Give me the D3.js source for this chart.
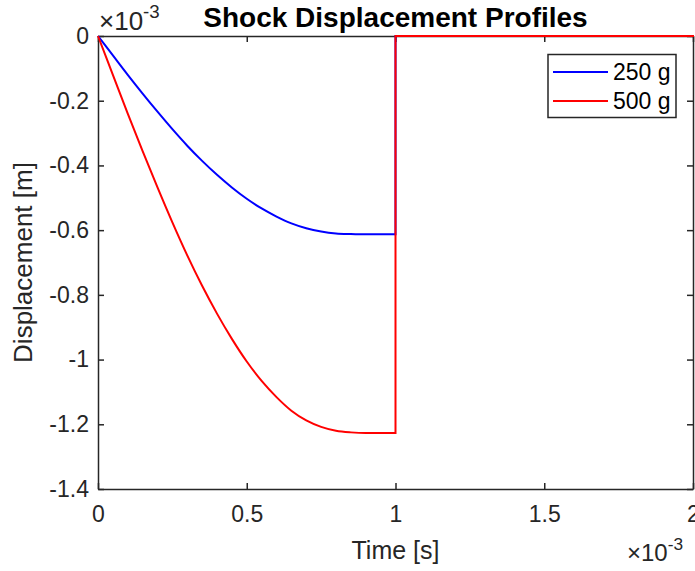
<!DOCTYPE html>
<html>
<head>
<meta charset="utf-8">
<script src="https://cdn.jsdelivr.net/npm/d3@7"></script>
<style>
  html, body { margin: 0; padding: 0; background: #fff; }
  svg { display: block; font-family: "Liberation Sans", Arial, Helvetica, sans-serif; }
</style>
</head>
<body>
<div id="chart"></div>
<script>
// time in ms, displacement in units of 1e-3 m
const timeMs = [0, 0.05, 0.1, 0.15, 0.2, 0.25, 0.3, 0.35, 0.4, 0.45, 0.5,
                0.55, 0.6, 0.65, 0.7, 0.75, 0.8, 0.85, 0.9, 0.95, 1.0];
const disp250 = [0, -0.060, -0.120, -0.178, -0.234, -0.288, -0.339, -0.386, -0.429, -0.468, -0.503,
                 -0.533, -0.558, -0.579, -0.594, -0.604, -0.610, -0.612, -0.613, -0.613, -0.613];
const disp500 = [0, -0.120, -0.240, -0.356, -0.468, -0.576, -0.678, -0.772, -0.858, -0.936, -1.006,
                 -1.066, -1.116, -1.158, -1.188, -1.208, -1.220, -1.225, -1.227, -1.227, -1.227];
// after the pulse both drop back to zero
const releaseTimeMs = [1.0, 1.0, 2.0];
const releaseDisp = [null, 0, 0];

const seriesNames = ["250 g", "500 g"];
const seriesColors = ["#0000ff", "#ff0000"];

const xTicks = [0, 0.5, 1, 1.5, 2];
const xTickLabels = ["0", "0.5", "1", "1.5", "2"];
const yTicks = [0, -0.2, -0.4, -0.6, -0.8, -1, -1.2, -1.4];
const yTickLabels = ["0", "-0.2", "-0.4", "-0.6", "-0.8", "-1", "-1.2", "-1.4"];

const width = 695, height = 571;
const plotL = 98, plotR = 693, plotT = 36, plotB = 489;
const ink = "#262626";

const svg = d3.select("#chart").append("svg")
    .attr("width", width)
    .attr("height", height);

const x = d3.scaleLinear().domain([0, 2]).range([plotL, plotR]);
const y = d3.scaleLinear().domain([-1.4, 0]).range([plotB, plotT]);

// axes box with inward ticks on all four sides
function styleAxis(g) {
    g.selectAll("path.domain").attr("stroke", ink).attr("stroke-width", 1.5);
    g.selectAll(".tick line").attr("stroke", ink).attr("stroke-width", 1.5);
    g.selectAll("text").attr("fill", ink).attr("font-size", 23);
}

svg.append("g")
    .attr("transform", `translate(0,${plotB})`)
    .call(d3.axisBottom(x).tickValues(xTicks).tickSizeInner(-6).tickSizeOuter(0).tickPadding(17)
        .tickFormat((d, i) => xTickLabels[i]))
    .call(styleAxis)
    .selectAll("text").attr("dy", "0.71em");

svg.append("g")
    .attr("transform", `translate(0,${plotT})`)
    .call(d3.axisTop(x).tickValues(xTicks).tickSizeInner(-6).tickSizeOuter(0).tickFormat(""))
    .call(styleAxis);

svg.append("g")
    .attr("transform", `translate(${plotL},0)`)
    .call(d3.axisLeft(y).tickValues(yTicks).tickSizeInner(-6).tickSizeOuter(0).tickPadding(9)
        .tickFormat((d, i) => yTickLabels[i]))
    .call(styleAxis);

svg.append("g")
    .attr("transform", `translate(${plotR},0)`)
    .call(d3.axisRight(y).tickValues(yTicks).tickSizeInner(-6).tickSizeOuter(0).tickFormat(""))
    .call(styleAxis);

// lines
const pulseLine = d3.line()
    .x(d => x(d[0]))
    .y(d => y(d[1]))
    .curve(d3.curveMonotoneX);
const releaseLine = d3.line()
    .x(d => x(d[0]))
    .y(d => y(d[1]));

[disp250, disp500].forEach((vals, si) => {
    const pts = timeMs.map((t, i) => [t, vals[i]]);
    const rel = releaseTimeMs.map((t, i) => [t, releaseDisp[i] === null ? vals[vals.length - 1] : releaseDisp[i]]);
    svg.append("path")
        .attr("d", pulseLine(pts))
        .attr("fill", "none")
        .attr("stroke", seriesColors[si])
        .attr("stroke-width", 2);
    svg.append("path")
        .attr("d", releaseLine(rel))
        .attr("fill", "none")
        .attr("stroke", seriesColors[si])
        .attr("stroke-width", 2)
        .attr("stroke-linecap", "square");
});

// title and labels
svg.append("text")
    .attr("x", (plotL + plotR) / 2)
    .attr("y", 27)
    .attr("text-anchor", "middle")
    .attr("font-weight", "bold")
    .attr("font-size", 28)
    .attr("fill", "#000")
    .text("Shock Displacement Profiles");

svg.append("text")
    .attr("x", (plotL + plotR) / 2)
    .attr("y", 559)
    .attr("text-anchor", "middle")
    .attr("font-size", 25)
    .attr("fill", ink)
    .text("Time [s]");

svg.append("text")
    .attr("transform", `translate(32,${(plotT + plotB) / 2}) rotate(-90)`)
    .attr("text-anchor", "middle")
    .attr("font-size", 26)
    .attr("fill", ink)
    .text("Displacement [m]");

// exponent markers
function exponent(xPos, yPos, size) {
    const t = svg.append("text")
        .attr("x", xPos)
        .attr("y", yPos)
        .attr("font-size", size)
        .attr("fill", ink);
    t.append("tspan").text("\u00d710");
    t.append("tspan").attr("dy", -size * 0.45).attr("font-size", size * 0.72).text("-3");
}
exponent(99, 30, 26);
exponent(627, 561, 24);

// legend
const legend = svg.append("g");
legend.append("rect")
    .attr("x", 548).attr("y", 54.5)
    .attr("width", 128).attr("height", 63)
    .attr("fill", "#fff")
    .attr("stroke", ink)
    .attr("stroke-width", 1.5);

seriesNames.forEach((name, i) => {
    const ly = 72 + i * 29;
    legend.append("line")
        .attr("x1", 553).attr("x2", 608)
        .attr("y1", ly).attr("y2", ly)
        .attr("stroke", seriesColors[i])
        .attr("stroke-width", 2);
    legend.append("text")
        .attr("x", 613).attr("y", ly)
        .attr("dy", "0.35em")
        .attr("font-size", 23)
        .attr("fill", "#000")
        .text(name);
});
</script>
</body>
</html>
